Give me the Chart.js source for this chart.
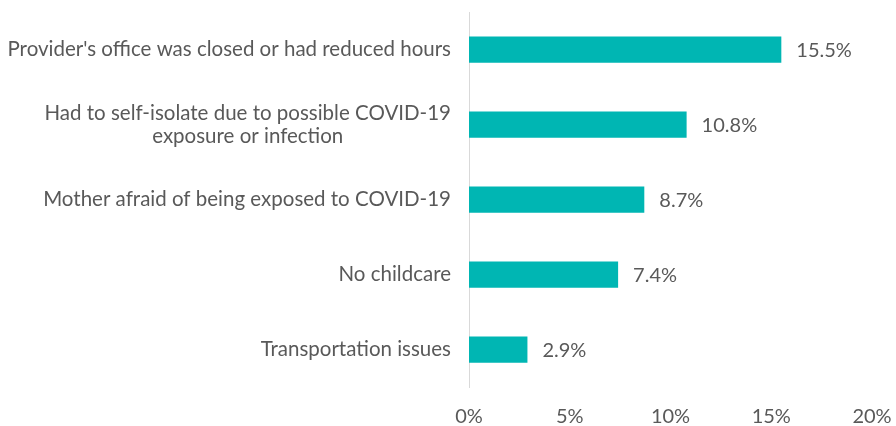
<!DOCTYPE html>
<html>
<head>
<meta charset="utf-8">
<script src="https://cdn.jsdelivr.net/npm/chart.js@4/dist/chart.umd.min.js"></script>
<style>
  html, body { margin: 0; padding: 0; background: #ffffff; }
  #wrap { width: 896px; height: 426px; position: relative; }
</style>
</head>
<body>
<div id="wrap"><canvas id="c"></canvas></div>
<script>
const categories = [
  "Provider's office was closed or had reduced hours",
  ["Had to self-isolate due to possible COVID-19", "exposure or infection"],
  "Mother afraid of being exposed to COVID-19",
  "No childcare",
  "Transportation issues"
];
const values = [15.5, 10.8, 8.7, 7.4, 2.9];
const valueLabels = ["15.5%", "10.8%", "8.7%", "7.4%", "2.9%"];
const xTicks = [0, 5, 10, 15, 20];

const FONT = "Lato, 'Liberation Sans', sans-serif";
const TEXT = '#595959';

const labelPlugin = {
  id: 'labels',
  afterDraw(chart) {
    const ctx = chart.ctx;
    const ys = chart.scales.y;
    ctx.save();
    ctx.fillStyle = TEXT;
    ctx.font = '20.5px ' + FONT;
    ctx.textBaseline = 'middle';
    ys.ticks.forEach((t, i) => {
      const lab = categories[i];
      const lines = Array.isArray(lab) ? lab : [lab];
      const widths = lines.map(l => ctx.measureText(l).width);
      const blockW = Math.max(...widths);
      const right = chart.chartArea.left - 18;
      const cx = right - blockW / 2;
      const y = ys.getPixelForTick(i);
      const lh = 23;
      ctx.textAlign = 'center';
      lines.forEach((l, j) => {
        ctx.fillText(l, cx, y + (j - (lines.length - 1) / 2) * lh);
      });
    });
    const meta = chart.getDatasetMeta(0);
    ctx.font = '20px ' + FONT;
    ctx.textAlign = 'left';
    meta.data.forEach((bar, i) => {
      ctx.fillText(valueLabels[i], bar.x + 15, bar.y + 1);
    });
    ctx.restore();
  }
};

new Chart(document.getElementById('c'), {
  type: 'bar',
  data: {
    labels: categories,
    datasets: [{
      data: values,
      backgroundColor: '#00B6B3',
      borderWidth: 0,
      categoryPercentage: 1,
      barPercentage: 0.35
    }]
  },
  options: {
    indexAxis: 'y',
    responsive: true,
    maintainAspectRatio: false,
    animation: false,
    layout: { padding: { left: 0, right: 24, top: 12, bottom: 0 } },
    plugins: { legend: { display: false }, tooltip: { enabled: false } },
    scales: {
      x: {
        min: 0, max: 20,
        afterBuildTicks(scale) { scale.ticks = xTicks.map(v => ({ value: v })); },
        afterFit(scale) { scale.height = 39; scale.paddingLeft = 0; scale.paddingRight = 0; },
        grid: { display: false, drawTicks: false },
        border: { display: false },
        ticks: {
          padding: 18,
          color: TEXT,
          font: { family: FONT, size: 20 },
          callback: v => v + '%',
          maxRotation: 0
        }
      },
      y: {
        afterFit(scale) { scale.width = 469; },
        grid: { display: false, drawTicks: false },
        border: { display: true, color: '#d9d9d9', width: 1 },
        ticks: { display: false }
      }
    }
  },
  plugins: [labelPlugin]
});
</script>
</body>
</html>
